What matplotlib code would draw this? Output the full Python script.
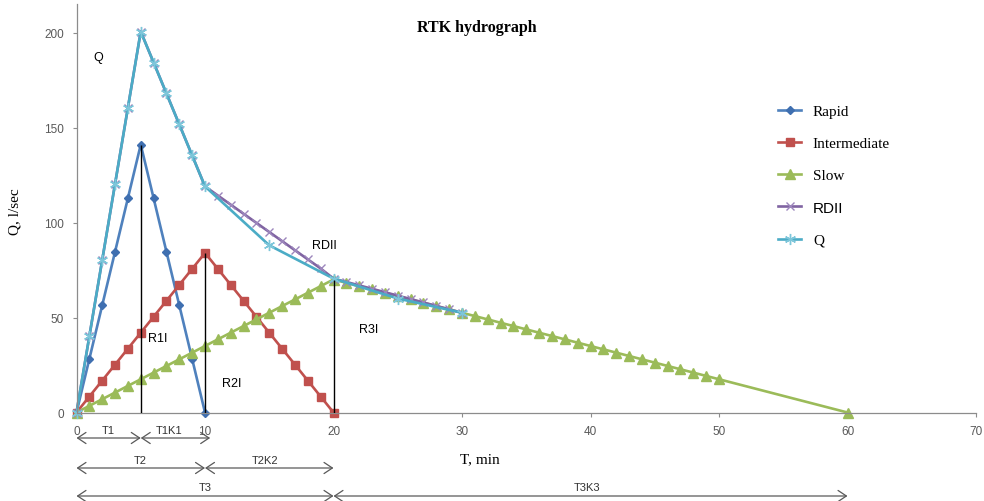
import matplotlib
matplotlib.use("Agg")

import matplotlib.pyplot as plt
import numpy as np

# -------------------------
# Data (T in min, Q in l/sec)
# -------------------------
rapid_t = [0, 1, 2, 3, 4, 5, 6, 7, 8, 9, 10]
rapid_q = [0, 28.2, 56.4, 84.6, 112.8, 141, 112.8, 84.6, 56.4, 28.2, 0]

inter_t = list(range(0, 21))
inter_q = [0, 8.4, 16.8, 25.2, 33.6, 42, 50.4, 58.8, 67.2, 75.6, 84,
           75.6, 67.2, 58.8, 50.4, 42, 33.6, 25.2, 16.8, 8.4, 0]

slow_t = list(range(0, 51)) + [60]
slow_q = [0, 3.5, 7, 10.5, 14, 17.5, 21, 24.5, 28, 31.5, 35,
          38.5, 42, 45.5, 49, 52.5, 56, 59.5, 63, 66.5, 70,
          68.25, 66.5, 64.75, 63, 61.25, 59.5, 57.75, 56, 54.25, 52.5,
          50.75, 49, 47.25, 45.5, 43.75, 42, 40.25, 38.5, 36.75, 35,
          33.25, 31.5, 29.75, 28, 26.25, 24.5, 22.75, 21, 19.25, 17.5,
          0]

rdii_t = list(range(0, 31))
rdii_q = [0, 40.1, 80.2, 120.3, 160.4, 200.5, 184.2, 167.9, 151.6, 135.3, 119,
          114.2, 109.4, 104.6, 99.8, 95, 90.2, 85.4, 80.6, 75.8, 70.5,
          68.7, 66.9, 65.1, 63.3, 61.5, 59.7, 57.9, 56.1, 54.3, 52.5]

q_t = [0, 1, 2, 3, 4, 5, 6, 7, 8, 9, 10, 15, 20, 25, 30]
q_q = [0, 40.1, 80.2, 120.3, 160.4, 200.5, 184.2, 167.9, 151.6, 135.3, 119,
       88, 70.5, 60, 52.5]

x_ticks = [0, 10, 20, 30, 40, 50, 60, 70]
y_ticks = [0, 50, 100, 150, 200]

# time spans drawn under the axis: (start, split, end), labels left/right
spans = [(0, 5, 10.4), (0, 10, 20), (0, 20, 60)]
span_labels = [("T1", "T1K1"), ("T2", "T2K2"), ("T3", "T3K3")]

SERIF = "Liberation Serif"
SANS = "Liberation Sans"
GREY = "#595959"

fig = plt.figure(figsize=(9.84, 5.02), dpi=100)
ax = fig.add_axes([76.5 / 984, 88.5 / 502, 899.5 / 984, 408.5 / 502])
ax.set_xlim(0, 70)
ax.set_ylim(0, 215)

for side in ("top", "right"):
    ax.spines[side].set_visible(False)
for side in ("left", "bottom"):
    ax.spines[side].set_color("#8c8c8c")
    ax.spines[side].set_linewidth(0.9)

ax.set_xticks(x_ticks)
ax.set_yticks(y_ticks)
ax.tick_params(direction="out", length=3, width=0.8, color="#8c8c8c",
               labelsize=8.5, labelcolor=GREY, pad=6)
for lab in ax.get_xticklabels() + ax.get_yticklabels():
    lab.set_family(SANS)

# -------------------------
# Series
# -------------------------
lw = 1.9
ax.plot(rapid_t, rapid_q, color="#4F81BD", lw=lw, marker="D", ms=4.5,
        mfc="#3F6FB0", mec="#3F6FB0", label="Rapid", clip_on=False)
ax.plot(inter_t, inter_q, color="#C0504D", lw=lw, marker="s", ms=6,
        mfc="#C0504D", mec="#C0504D", label="Intermediate", clip_on=False)
ax.plot(slow_t, slow_q, color="#9BBB59", lw=lw, marker="^", ms=6.5,
        mfc="#9BBB59", mec="#9BBB59", label="Slow", clip_on=False)
ax.plot(rdii_t, rdii_q, color="#8064A2", lw=lw, marker="x", ms=6, mew=1.0,
        mec="#9C86BC", label="RDII", clip_on=False)
ax.plot(q_t, q_q, color="#4BACC6", lw=lw, marker=(6, 2, 0), ms=8, mew=1.0,
        mec="#7DC6DA", label="Q", clip_on=False)

# vertical lines at the component peaks
peaks_t = [rapid_t[int(np.argmax(rapid_q))], inter_t[int(np.argmax(inter_q))],
           slow_t[int(np.argmax(slow_q))]]
peaks_q = [max(rapid_q), max(inter_q), max(slow_q)]
ax.vlines(peaks_t, 0, peaks_q, colors="black", lw=1.0, zorder=5)

# series labels inside the plot
for txt, tx, ty in [("Q", 1.7, 187), ("RDII", 19.3, 88), ("R1I", 6.3, 39),
                    ("R2I", 12.1, 15.5), ("R3I", 22.7, 44)]:
    ax.text(tx, ty, txt, family=SANS, fontsize=9, ha="center", va="center")

# -------------------------
# Time span arrows below the axis
# -------------------------
arrow_y = [63, 33, 5]
label_y = [71, 41, 14]
for (t0, t1, t2), (l1, l2), ay, ly in zip(spans, span_labels, arrow_y, label_y):
    for a, b in ((t0, t1), (t1, t2)):
        ax.annotate("", xy=(b, ay), xytext=(a, ay),
                    xycoords=("data", "figure pixels"),
                    textcoords=("data", "figure pixels"),
                    arrowprops=dict(arrowstyle="<->,head_length=0.6,head_width=0.4",
                                    color=GREY, lw=0.9, shrinkA=0, shrinkB=0),
                    annotation_clip=False)
    ax.annotate(l1, xy=((t0 + t1) / 2, ly), xycoords=("data", "figure pixels"),
                ha="center", va="center", family=SANS, fontsize=8, color="#333333",
                annotation_clip=False)
    ax.annotate(l2, xy=((t1 + t2) / 2 - (0.5 if l2 == "T1K1" else 0.3), ly),
                xycoords=("data", "figure pixels"),
                ha="center", va="center", family=SANS, fontsize=8, color="#333333",
                annotation_clip=False)

# -------------------------
# Titles and axis labels
# -------------------------
fig.text(477 / 984, 1 - 28 / 502, "RTK hydrograph", family=SERIF,
         fontweight="bold", fontsize=11.5, ha="center", va="center")
fig.text(15 / 984, 1 - 212 / 502, "Q, l/sec", family=SERIF, fontsize=11,
         rotation=90, ha="center", va="center")
fig.text(480 / 984, 1 - 460 / 502, "T, min", family=SERIF, fontsize=11,
         ha="center", va="center")

# -------------------------
# Legend
# -------------------------
leg = ax.legend(loc="upper left", bbox_to_anchor=(764 / 984, 1 - 92 / 502),
                bbox_transform=fig.transFigure, frameon=False,
                prop={"family": SERIF, "size": 11},
                handlelength=1.55, handletextpad=0.75, labelspacing=1.2)
leg.get_texts()[3].set_family(SANS)

fig.savefig("out.png", dpi=100)
